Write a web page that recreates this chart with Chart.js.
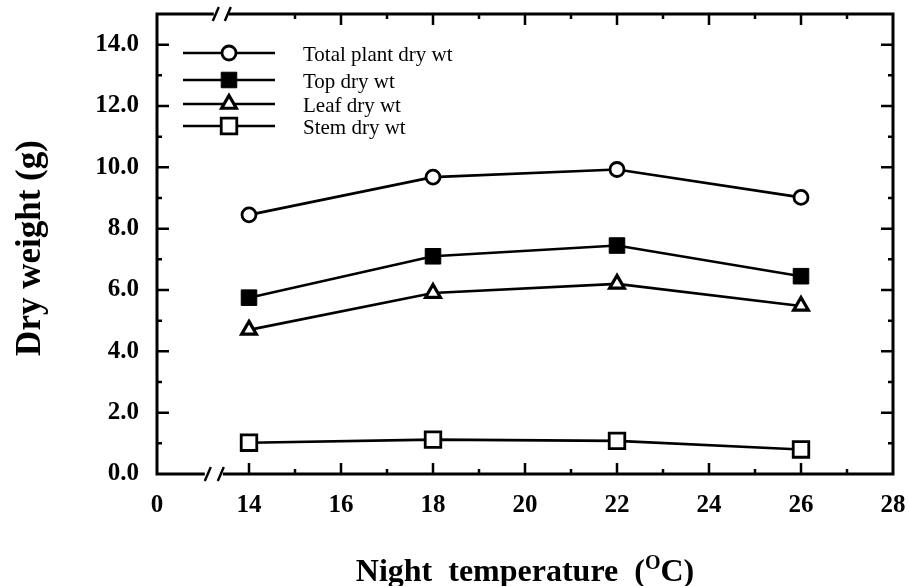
<!DOCTYPE html>
<html>
<head>
<meta charset="utf-8">
<script src="https://cdn.jsdelivr.net/npm/chart.js@4.4.0/dist/chart.umd.min.js"></script>
<style>
  html, body { margin: 0; padding: 0; background: #fff; }
</style>
</head>
<body>
<canvas id="chart" width="909" height="586"></canvas>
<script>
// values
const temps = [14, 18, 22, 26];
const totalPlant = [8.45, 9.68, 9.93, 9.02];
const topDry = [5.75, 7.1, 7.45, 6.45];
const leafDry = [4.7, 5.9, 6.2, 5.48];
const stemDry = [1.02, 1.12, 1.08, 0.8];

const seriesNames = ["Total plant dry wt", "Top dry wt", "Leaf dry wt", "Stem dry wt"];

const xTicks = [12, 14, 16, 18, 20, 22, 24, 26, 28];
const xTickLabels = ["0", "14", "16", "18", "20", "22", "24", "26", "28"];
const yTicks = [0, 2, 4, 6, 8, 10, 12, 14];
const yTickLabels = ["0.0", "2.0", "4.0", "6.0", "8.0", "10.0", "12.0", "14.0"];

const xBreakAt = 13.3; // where the "//" sits on the x axis

const serif = "'Liberation Serif', 'Times New Roman', serif";
Chart.defaults.font.family = serif;
Chart.defaults.color = "#000";

const toPoints = (vals) => temps.map((t, i) => ({ x: t, y: vals[i] }));

const datasets = [
  { label: seriesNames[0], data: toPoints(totalPlant), pointStyle: "circle", pointRadius: 7, pointBackgroundColor: "#fff", pointBorderWidth: 2.8 },
  { label: seriesNames[1], data: toPoints(topDry), pointStyle: "rect", pointRadius: 11, pointBackgroundColor: "#000", pointBorderWidth: 1 },
  { label: seriesNames[2], data: toPoints(leafDry), pointStyle: "triangle", pointRadius: 8.5, pointBackgroundColor: "#fff", pointBorderWidth: 3.2 },
  { label: seriesNames[3], data: toPoints(stemDry), pointStyle: "rect", pointRadius: 11, pointBackgroundColor: "#fff", pointBorderWidth: 2.8 },
].map((d) => ({
  ...d,
  showLine: true,
  borderColor: "#000",
  borderWidth: 2.6,
  pointBorderColor: "#000",
  tension: 0,
}));

// frame, inward ticks, axis breaks, legend and titles
const decorations = {
  id: "decorations",
  afterDraw(chart) {
    const { ctx, chartArea: a, scales } = chart;
    const xs = scales.x, ys = scales.y;
    ctx.save();
    ctx.strokeStyle = "#000";
    ctx.fillStyle = "#000";
    ctx.lineCap = "butt";

    // inward ticks
    ctx.lineWidth = 2.5;
    ctx.beginPath();
    xs.ticks.forEach((t) => {
      const px = xs.getPixelForValue(t.value);
      const len = t.value % 2 === 0 ? 11 : 5;
      if (t.value >= 14 && t.value < 28) {
        ctx.moveTo(px, a.bottom);
        ctx.lineTo(px, a.bottom - len);
      }
      if (t.value >= 15 && t.value < 28) {
        ctx.moveTo(px, a.top);
        ctx.lineTo(px, a.top + len);
      }
    });
    ys.ticks.forEach((t) => {
      if (t.value <= 0 || t.value >= 15) return;
      const py = ys.getPixelForValue(t.value);
      const len = t.value % 2 === 0 ? 12 : 5;
      ctx.moveTo(a.left, py);
      ctx.lineTo(a.left + len, py);
      ctx.moveTo(a.right, py);
      ctx.lineTo(a.right - len, py);
    });
    ctx.stroke();

    // frame with breaks on top and bottom
    const bx = xs.getPixelForValue(xBreakAt);
    ctx.lineWidth = 3;
    ctx.beginPath();
    ctx.moveTo(a.left, a.top);
    ctx.lineTo(a.left, a.bottom);
    ctx.moveTo(a.right, a.top);
    ctx.lineTo(a.right, a.bottom);
    ctx.moveTo(a.left - 1.5, a.bottom);
    ctx.lineTo(bx - 12, a.bottom);
    ctx.moveTo(bx + 6, a.bottom);
    ctx.lineTo(a.right + 1.5, a.bottom);
    ctx.moveTo(a.left - 1.5, a.top);
    ctx.lineTo(bx - 3, a.top);
    ctx.moveTo(bx + 12, a.top);
    ctx.lineTo(a.right + 1.5, a.top);
    ctx.stroke();

    ctx.lineWidth = 2.4;
    ctx.beginPath();
    [[bx - 9, a.bottom], [bx + 4, a.bottom], [bx - 1, a.top], [bx + 11, a.top]].forEach(([sx, sy]) => {
      ctx.moveTo(sx - 3, sy + 7);
      ctx.lineTo(sx + 3, sy - 7);
    });
    ctx.stroke();

    // legend
    const rows = [53, 80, 104, 126];
    chart.data.datasets.forEach((ds, i) => {
      const y = rows[i];
      ctx.lineWidth = 2.6;
      ctx.beginPath();
      ctx.moveTo(183, y);
      ctx.lineTo(275, y);
      ctx.stroke();
      ctx.fillStyle = ds.pointBackgroundColor;
      ctx.lineWidth = ds.pointBorderWidth;
      Chart.helpers.drawPoint(ctx, {
        pointStyle: ds.pointStyle,
        radius: ds.pointRadius,
        borderWidth: ds.pointBorderWidth,
        rotation: 0,
      }, 229, y);
      ctx.fillStyle = "#000";
      ctx.font = "21px " + serif;
      ctx.textAlign = "left";
      ctx.textBaseline = "middle";
      ctx.fillText(ds.label, 303, y + 2);
    });

    // y title
    ctx.save();
    ctx.translate(31, (a.top + a.bottom) / 2 + 4);
    ctx.rotate(-Math.PI / 2);
    ctx.font = "bold 35px " + serif;
    ctx.textAlign = "center";
    ctx.textBaseline = "middle";
    ctx.fillText("Dry weight (g)", 0, 0);
    ctx.restore();

    // x title with superscript O
    const main = "bold 32px " + serif;
    const sup = "bold 20px " + serif;
    const p1 = "Night  temperature  (", p2 = "O", p3 = "C)";
    ctx.font = main;
    const w1 = ctx.measureText(p1).width, w3 = ctx.measureText(p3).width;
    ctx.font = sup;
    const w2 = ctx.measureText(p2).width;
    let tx = (a.left + a.right) / 2 - (w1 + w2 + w3) / 2;
    const base = 581;
    ctx.textAlign = "left";
    ctx.textBaseline = "alphabetic";
    ctx.font = main;
    ctx.fillText(p1, tx, base);
    tx += w1;
    ctx.font = sup;
    ctx.fillText(p2, tx, base - 12);
    tx += w2;
    ctx.font = main;
    ctx.fillText(p3, tx, base);

    ctx.restore();
  },
};

new Chart(document.getElementById("chart"), {
  type: "scatter",
  data: { datasets },
  options: {
    responsive: false,
    animation: false,
    layout: { padding: { top: 14, right: 16, left: 0, bottom: 0 } },
    plugins: { legend: { display: false }, tooltip: { enabled: false } },
    scales: {
      x: {
        type: "linear",
        min: 12,
        max: 28,
        afterFit: (s) => { s.height = 112; s.paddingLeft = 0; s.paddingRight = 0; },
        grid: { display: false, drawTicks: false },
        border: { display: false },
        ticks: {
          stepSize: 1,
          autoSkip: false,
          maxRotation: 0,
          padding: 17,
          font: { size: 25, weight: "bold" },
          callback: (v) => {
            const i = xTicks.indexOf(v);
            return i >= 0 ? xTickLabels[i] : "";
          },
        },
      },
      y: {
        min: 0,
        max: 15,
        afterFit: (s) => { s.width = 157; s.paddingTop = 0; s.paddingBottom = 0; },
        grid: { display: false, drawTicks: false },
        border: { display: false },
        ticks: {
          stepSize: 1,
          autoSkip: false,
          padding: 18,
          font: { size: 25, weight: "bold" },
          callback: (v) => {
            const i = yTicks.indexOf(v);
            return i >= 0 ? yTickLabels[i] : "";
          },
        },
      },
    },
  },
  plugins: [decorations],
});
</script>
</body>
</html>
